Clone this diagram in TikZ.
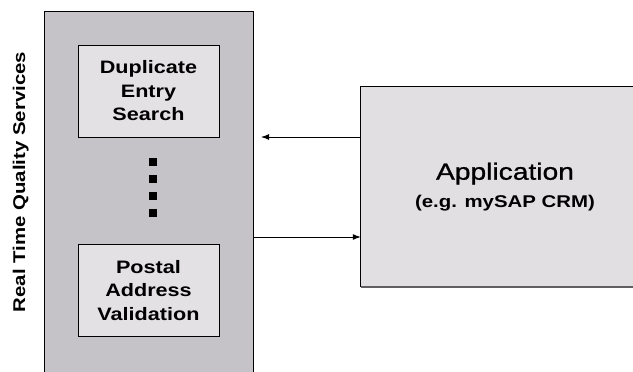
\documentclass[tikz,border=0pt]{standalone}
\usepackage{fontspec}
\setmainfont[FakeStretch=1.2]{Liberation Sans}
\newfontfamily\appfont[FakeStretch=1.2,FakeBold=1]{Liberation Sans}
\usetikzlibrary{arrows.meta}
\definecolor{outergray}{RGB}{197,195,199}
\definecolor{innergray}{RGB}{228,225,228}
\definecolor{appgray}{RGB}{226,223,226}
\definecolor{edgegray}{RGB}{96,96,96}
\begin{document}
\begin{tikzpicture}[x=1pt,y=-1pt,
  svcbox/.style={draw=black,line width=1pt,fill=innergray,minimum width=141pt,minimum height=92pt,inner sep=0pt,align=center,font=\fontsize{18}{23.5}\selectfont\bfseries},
  dotsq/.style={fill=black,minimum size=8pt,inner sep=0pt},
  link/.style={line width=1pt,-{Latex[length=8pt,width=6pt]}}]
\useasboundingbox[fill=white] (0,0) rectangle (633,372);
% outer services column
\node[fill=outergray,minimum width=208pt,minimum height=360pt,inner sep=0pt] (rtqs) at (149,192) {};
\draw[line width=1pt] (rtqs.south west) -- (rtqs.north west) -- (rtqs.north east) -- (rtqs.south east);
\node[rotate=90,anchor=base,font=\fontsize{17}{20}\selectfont\bfseries] (title) at (25,182) {Real Time Quality Services};
% service boxes
\node[svcbox] (dup) at (148.5,91) {Duplicate\\Entry\\Search};
\node[svcbox] (postal) at (148.5,290.5) {Postal\\Address\\Validation};
\node[dotsq] (d1) at (153,162) {};
\node[dotsq] (d2) at (153,179) {};
\node[dotsq] (d3) at (153,196) {};
\node[dotsq] (d4) at (153,213) {};
% application
\node[fill=appgray,minimum width=288pt,minimum height=200pt,inner sep=0pt,align=center,font=\fontsize{17}{28}\selectfont] (app) at (505,187)
  {{\appfont\fontsize{23.5}{28}\selectfont Application}\\{\bfseries (e.g. mySAP CRM)}};
\draw[line width=1pt] (app.north east) -- (app.north west) -- (app.south west);
\draw[edgegray,line width=2pt] (app.south west) -- (app.south east);
% connectors
\coordinate (inTip) at (261,137);
\draw[link] (app.west |- inTip) -- (inTip);
\coordinate (outY) at (300,237);
\draw[link] (rtqs.east |- outY) -- (app.west |- outY);
\end{tikzpicture}
\end{document}
